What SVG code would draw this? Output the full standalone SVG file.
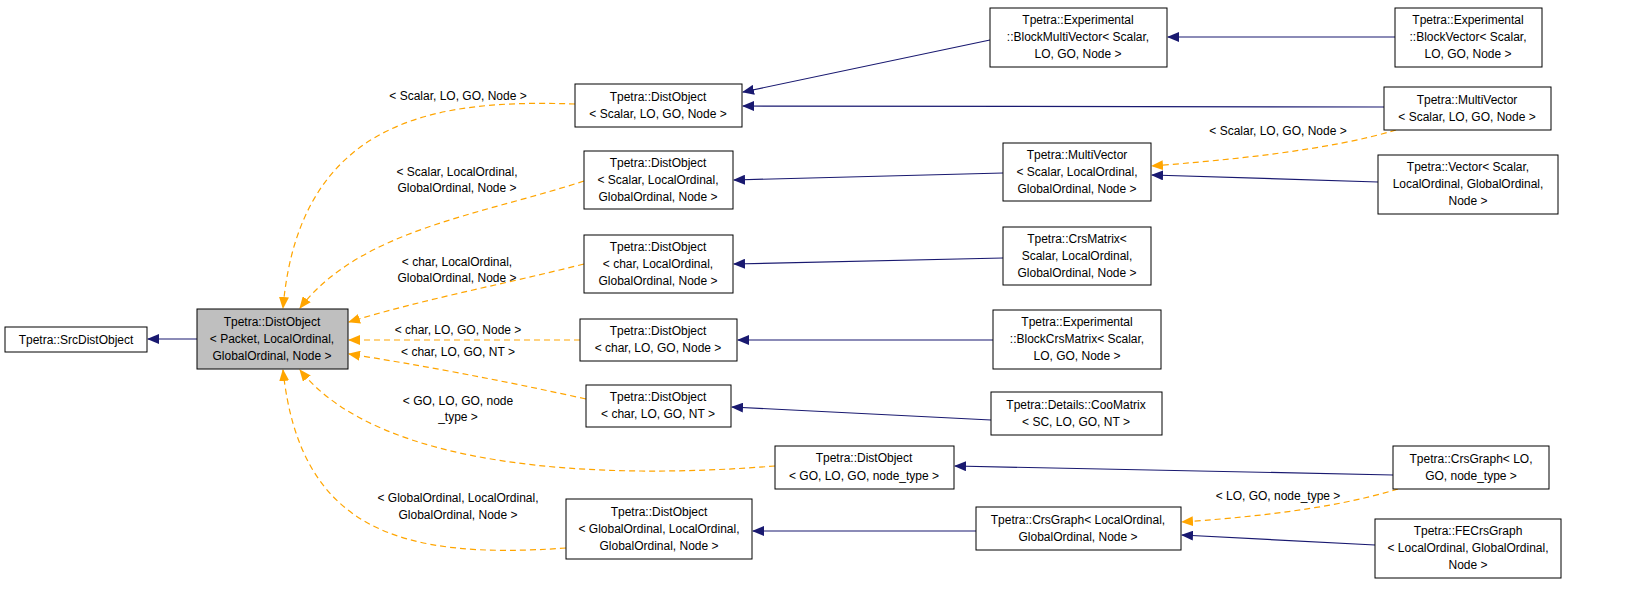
<svg xmlns="http://www.w3.org/2000/svg" width="1643" height="613" viewBox="0 0 1643 613">
<style>
text{font-family:"Liberation Sans",Arial,sans-serif;font-size:12px;fill:#000;text-anchor:middle}
.n rect{fill:#fff;stroke:#000;stroke-width:1}
.s{fill:none;stroke:#191970;stroke-width:1.2}
.d{fill:none;stroke:#ffa500;stroke-width:1.2;stroke-dasharray:6,4}
</style>
<defs>
<marker id="an" viewBox="0 0 12 10" refX="11" refY="5" markerWidth="12" markerHeight="10" markerUnits="userSpaceOnUse" orient="auto-start-reverse"><path d="M0,0L12,5L0,10z" fill="#191970"/></marker>
<marker id="ao" viewBox="0 0 12 10" refX="11" refY="5" markerWidth="12" markerHeight="10" markerUnits="userSpaceOnUse" orient="auto-start-reverse"><path d="M0,0L12,5L0,10z" fill="#ffa500"/></marker>
</defs>
<rect width="1643" height="613" fill="#fff"/>
<g id="edges">
<path class="s" marker-end="url(#an)" d="M197,339L148,339"/>
<path class="d" marker-end="url(#ao)" d="M575,104C450,100 300,110 283,308"/>
<path class="d" marker-end="url(#ao)" d="M584,181C480,215 360,230 300,308"/>
<path class="d" marker-end="url(#ao)" d="M584,264C500,285 420,300 349,322"/>
<path class="d" marker-end="url(#ao)" d="M580,340L349,340"/>
<path class="d" marker-end="url(#ao)" d="M586,399C500,380 420,365 349,354"/>
<path class="d" marker-end="url(#ao)" d="M775,466C600,480 380,470 300,370"/>
<path class="d" marker-end="url(#ao)" d="M566,548C400,560 300,530 283,370"/>
<path class="s" marker-end="url(#an)" d="M990,40L743,92"/>
<path class="s" marker-end="url(#an)" d="M1384,107L743,106"/>
<path class="s" marker-end="url(#an)" d="M1395,37L1168,37"/>
<path class="d" marker-end="url(#ao)" d="M1396,130C1330,150 1230,160 1152,166"/>
<path class="s" marker-end="url(#an)" d="M1378,182L1152,175"/>
<path class="s" marker-end="url(#an)" d="M1003,173L734,180"/>
<path class="s" marker-end="url(#an)" d="M1003,258L734,264"/>
<path class="s" marker-end="url(#an)" d="M993,340L738,340"/>
<path class="s" marker-end="url(#an)" d="M991,420L732,407"/>
<path class="s" marker-end="url(#an)" d="M1393,475L955,466"/>
<path class="s" marker-end="url(#an)" d="M976,531L753,531"/>
<path class="d" marker-end="url(#ao)" d="M1398,489C1330,510 1240,518 1182,522"/>
<path class="s" marker-end="url(#an)" d="M1375,545L1182,535"/>
<text x="458" y="100">&lt; Scalar, LO, GO, Node &gt;</text>
<text x="457" y="176">&lt; Scalar, LocalOrdinal,</text>
<text x="457" y="192">GlobalOrdinal, Node &gt;</text>
<text x="457" y="266">&lt; char, LocalOrdinal,</text>
<text x="457" y="282">GlobalOrdinal, Node &gt;</text>
<text x="458" y="334">&lt; char, LO, GO, Node &gt;</text>
<text x="458" y="356">&lt; char, LO, GO, NT &gt;</text>
<text x="458" y="405">&lt; GO, LO, GO, node</text>
<text x="458" y="421">_type &gt;</text>
<text x="458" y="502">&lt; GlobalOrdinal, LocalOrdinal,</text>
<text x="458" y="519">GlobalOrdinal, Node &gt;</text>
<text x="1278" y="135">&lt; Scalar, LO, GO, Node &gt;</text>
<text x="1278" y="500">&lt; LO, GO, node_type &gt;</text>
</g>
<g id="n0" class="n"><rect x="5" y="327" width="142" height="25"/><text x="76" y="344">Tpetra::SrcDistObject</text></g>
<g id="n1" class="n"><rect x="197" y="309" width="151" height="60" style="fill:#bfbfbf"/><text x="272" y="326">Tpetra::DistObject</text><text x="272" y="343">&lt; Packet, LocalOrdinal,</text><text x="272" y="360">GlobalOrdinal, Node &gt;</text></g>
<g id="n2" class="n"><rect x="575" y="84" width="167" height="43"/><text x="658" y="101">Tpetra::DistObject</text><text x="658" y="118">&lt; Scalar, LO, GO, Node &gt;</text></g>
<g id="n3" class="n"><rect x="584" y="151" width="149" height="58"/><text x="658" y="167">Tpetra::DistObject</text><text x="658" y="184">&lt; Scalar, LocalOrdinal,</text><text x="658" y="201">GlobalOrdinal, Node &gt;</text></g>
<g id="n4" class="n"><rect x="584" y="235" width="149" height="58"/><text x="658" y="251">Tpetra::DistObject</text><text x="658" y="268">&lt; char, LocalOrdinal,</text><text x="658" y="285">GlobalOrdinal, Node &gt;</text></g>
<g id="n5" class="n"><rect x="580" y="319" width="157" height="42"/><text x="658" y="335">Tpetra::DistObject</text><text x="658" y="352">&lt; char, LO, GO, Node &gt;</text></g>
<g id="n6" class="n"><rect x="586" y="385" width="145" height="42"/><text x="658" y="401">Tpetra::DistObject</text><text x="658" y="418">&lt; char, LO, GO, NT &gt;</text></g>
<g id="n7" class="n"><rect x="775" y="446" width="179" height="43"/><text x="864" y="462">Tpetra::DistObject</text><text x="864" y="480">&lt; GO, LO, GO, node_type &gt;</text></g>
<g id="n8" class="n"><rect x="566" y="499" width="186" height="60"/><text x="659" y="516">Tpetra::DistObject</text><text x="659" y="533">&lt; GlobalOrdinal, LocalOrdinal,</text><text x="659" y="550">GlobalOrdinal, Node &gt;</text></g>
<g id="n9" class="n"><rect x="990" y="8" width="177" height="59"/><text x="1078" y="24">Tpetra::Experimental</text><text x="1078" y="41">::BlockMultiVector&lt; Scalar,</text><text x="1078" y="58">LO, GO, Node &gt;</text></g>
<g id="n10" class="n"><rect x="1395" y="8" width="147" height="59"/><text x="1468" y="24">Tpetra::Experimental</text><text x="1468" y="41">::BlockVector&lt; Scalar,</text><text x="1468" y="58">LO, GO, Node &gt;</text></g>
<g id="n11" class="n"><rect x="1384" y="87" width="167" height="43"/><text x="1467" y="104">Tpetra::MultiVector</text><text x="1467" y="121">&lt; Scalar, LO, GO, Node &gt;</text></g>
<g id="n12" class="n"><rect x="1003" y="143" width="148" height="58"/><text x="1077" y="159">Tpetra::MultiVector</text><text x="1077" y="176">&lt; Scalar, LocalOrdinal,</text><text x="1077" y="193">GlobalOrdinal, Node &gt;</text></g>
<g id="n13" class="n"><rect x="1378" y="155" width="180" height="59"/><text x="1468" y="171">Tpetra::Vector&lt; Scalar,</text><text x="1468" y="188">LocalOrdinal, GlobalOrdinal,</text><text x="1468" y="205">Node &gt;</text></g>
<g id="n14" class="n"><rect x="1003" y="227" width="148" height="58"/><text x="1077" y="243">Tpetra::CrsMatrix&lt;</text><text x="1077" y="260">Scalar, LocalOrdinal,</text><text x="1077" y="277">GlobalOrdinal, Node &gt;</text></g>
<g id="n15" class="n"><rect x="993" y="310" width="168" height="59"/><text x="1077" y="326">Tpetra::Experimental</text><text x="1077" y="343">::BlockCrsMatrix&lt; Scalar,</text><text x="1077" y="360">LO, GO, Node &gt;</text></g>
<g id="n16" class="n"><rect x="991" y="392" width="171" height="43"/><text x="1076" y="409">Tpetra::Details::CooMatrix</text><text x="1076" y="426">&lt; SC, LO, GO, NT &gt;</text></g>
<g id="n17" class="n"><rect x="1393" y="446" width="156" height="43"/><text x="1471" y="463">Tpetra::CrsGraph&lt; LO,</text><text x="1471" y="480">GO, node_type &gt;</text></g>
<g id="n18" class="n"><rect x="976" y="507" width="205" height="43"/><text x="1078" y="524">Tpetra::CrsGraph&lt; LocalOrdinal,</text><text x="1078" y="541">GlobalOrdinal, Node &gt;</text></g>
<g id="n19" class="n"><rect x="1375" y="519" width="186" height="59"/><text x="1468" y="535">Tpetra::FECrsGraph</text><text x="1468" y="552">&lt; LocalOrdinal, GlobalOrdinal,</text><text x="1468" y="569">Node &gt;</text></g>
</svg>
